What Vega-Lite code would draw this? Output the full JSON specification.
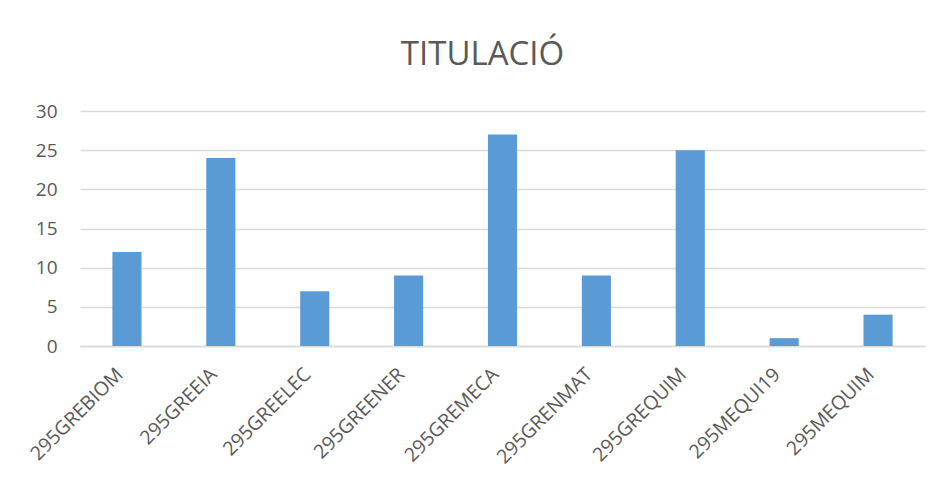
{
  "$schema": "https://vega.github.io/schema/vega-lite/v6.json",
  "width": 845,
  "height": 235,
  "autosize": {"type": "none"},
  "padding": {"left": 80, "top": 111, "right": 16, "bottom": 144},
  "background": "white",
  "title": {
    "text": "TITULACIÓ",
    "font": "Open Sans",
    "fontSize": 33,
    "fontWeight": "normal",
    "color": "#595959",
    "anchor": "middle",
    "dx": -20,
    "offset": 30
  },
  "data": {
    "values": [
      {"titulacio": "295GREBIOM", "n": 12},
      {"titulacio": "295GREEIA", "n": 24},
      {"titulacio": "295GREELEC", "n": 7},
      {"titulacio": "295GREENER", "n": 9},
      {"titulacio": "295GREMECA", "n": 27},
      {"titulacio": "295GRENMAT", "n": 9},
      {"titulacio": "295GREQUIM", "n": 25},
      {"titulacio": "295MEQUI19", "n": 1},
      {"titulacio": "295MEQUIM", "n": 4}
    ]
  },
  "mark": {"type": "bar", "color": "#5b9bd5"},
  "encoding": {
    "x": {
      "field": "titulacio",
      "type": "nominal",
      "sort": null,
      "scale": {"paddingInner": 0.69, "paddingOuter": 0.345},
      "axis": {
        "title": null,
        "labelAngle": -45,
        "labelAlign": "right",
        "labelBaseline": "middle",
        "labelFont": "Open Sans",
        "labelFontSize": 19.5,
        "labelColor": "#595959",
        "labelPadding": 25,
        "labelOffset": -7,
        "ticks": false,
        "domain": true,
        "domainColor": "#d9d9d9",
        "domainWidth": 1.5,
        "grid": false
      }
    },
    "y": {
      "field": "n",
      "type": "quantitative",
      "scale": {"domain": [0, 30]},
      "axis": {
        "title": null,
        "values": [0, 5, 10, 15, 20, 25, 30],
        "labelFont": "Open Sans",
        "labelFontSize": 19,
        "labelColor": "#595959",
        "labelPadding": 23,
        "ticks": false,
        "domain": false,
        "grid": true,
        "gridColor": "#d9d9d9",
        "gridWidth": 1.5
      }
    }
  },
  "config": {"view": {"stroke": null}}
}
